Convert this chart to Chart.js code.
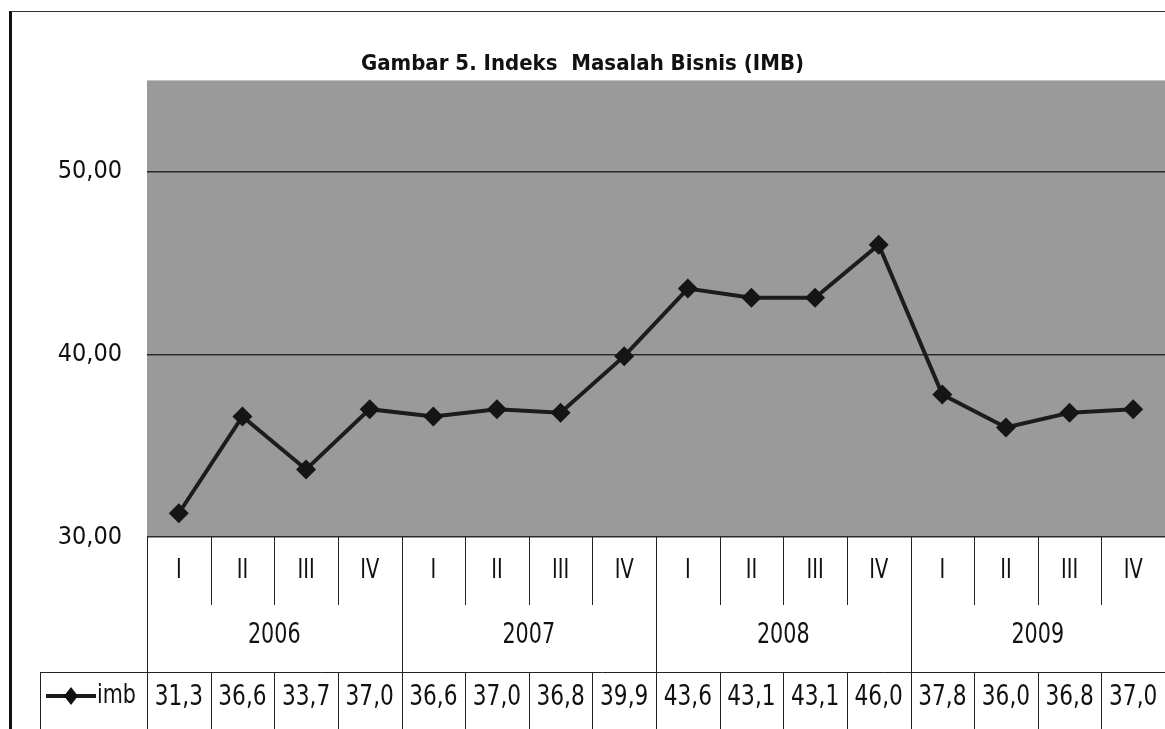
<!DOCTYPE html>
<html>
<head>
<meta charset="utf-8">
<script src="https://cdn.jsdelivr.net/npm/chart.js@4/dist/chart.umd.min.js"></script>
<style>
  html, body { margin: 0; padding: 0; background: #fff; overflow: hidden; }
  #wrap { position: relative; width: 1165px; height: 729px; }
  #chart { display: block; }
  #frame { position: absolute; left: 9px; top: 11px; right: 0; bottom: 0;
           border-left: 3px solid #111; border-top: 1px solid #333; pointer-events: none; }
</style>
</head>
<body>
<div id="wrap">
  <canvas id="chart" width="1165" height="729"></canvas>
  <div id="frame"></div>
</div>
<script>
const titleText = 'Gambar 5. Indeks  Masalah Bisnis (IMB)'
const quarters = ['I', 'II', 'III', 'IV', 'I', 'II', 'III', 'IV', 'I', 'II', 'III', 'IV', 'I', 'II', 'III', 'IV']
const years = ['2006', '2007', '2008', '2009']
const imbValues = [31.3, 36.6, 33.7, 37.0, 36.6, 37.0, 36.8, 39.9, 43.6, 43.1, 43.1, 46.0, 37.8, 36.0, 36.8, 37.0]
const yTicks = [30, 40, 50]
const seriesName = 'imb'

const narrow = '"DejaVu Sans Condensed", "Liberation Sans", sans-serif'
const fmt = v => v.toFixed(1).replace('.', ',')

// grey plot background
const plotBg = {
  id: 'plotBg',
  beforeDraw(chart) {
    const {ctx, chartArea: a} = chart
    ctx.save()
    ctx.fillStyle = '#9a9a9a'
    ctx.fillRect(a.left, a.top, a.right - a.left, a.bottom - a.top)
    ctx.restore()
  }
}

// draws text a bit squeezed sideways, closer to the narrow face of the original
function squeezed(ctx, text, x, y, sx) {
  ctx.save()
  ctx.translate(x, y)
  ctx.scale(sx, 1)
  ctx.fillText(text, 0, 0)
  ctx.restore()
}

// category table under the plot: quarters, years, data row
const dataTable = {
  id: 'dataTable',
  afterDraw(chart) {
    const {ctx, chartArea: a} = chart
    const x = chart.scales.x
    const half = (x.getPixelForValue(1) - x.getPixelForValue(0)) / 2
    const qBottom = a.bottom + 68
    const tTop = a.bottom + 135
    const bottom = chart.height
    ctx.save()
    ctx.strokeStyle = '#222'
    ctx.lineWidth = 1
    ctx.fillStyle = '#111'
    ctx.textAlign = 'center'
    ctx.textBaseline = 'middle'

    // left edge of the table
    ctx.beginPath()
    ctx.moveTo(a.left + 0.5, a.bottom)
    ctx.lineTo(a.left + 0.5, bottom)
    ctx.stroke()

    quarters.forEach((q, i) => {
      const cx = x.getPixelForValue(i)
      const right = Math.round(cx + half) + 0.5
      ctx.font = '27px ' + narrow
      squeezed(ctx, q, cx, a.bottom + 34, 0.8)
      ctx.font = '28px ' + narrow
      squeezed(ctx, fmt(imbValues[i]), cx, tTop + 26, 0.86)
      ctx.beginPath()
      if ((i + 1) % 4 === 0) {
        ctx.moveTo(right, a.bottom)
        ctx.lineTo(right, bottom)
      } else {
        ctx.moveTo(right, a.bottom)
        ctx.lineTo(right, qBottom)
        ctx.moveTo(right, tTop)
        ctx.lineTo(right, bottom)
      }
      ctx.stroke()
    })

    years.forEach((y, k) => {
      const x0 = x.getPixelForValue(k * 4) - half
      const x1 = x.getPixelForValue(k * 4 + 3) + half
      ctx.font = '28px ' + narrow
      squeezed(ctx, y, (x0 + x1) / 2, a.bottom + 99, 0.82)
    })

    // data row top line and legend cell
    const legLeft = 40
    ctx.beginPath()
    ctx.moveTo(legLeft, tTop + 0.5)
    ctx.lineTo(a.right, tTop + 0.5)
    ctx.moveTo(legLeft + 0.5, tTop)
    ctx.lineTo(legLeft + 0.5, bottom)
    ctx.stroke()

    const ly = tTop + 24
    ctx.strokeStyle = '#1a1a1a'
    ctx.lineWidth = 4
    ctx.beginPath()
    ctx.moveTo(legLeft + 6, ly)
    ctx.lineTo(legLeft + 56, ly)
    ctx.stroke()
    ctx.fillStyle = '#111'
    ctx.beginPath()
    ctx.moveTo(legLeft + 31, ly - 9)
    ctx.lineTo(legLeft + 38, ly)
    ctx.lineTo(legLeft + 31, ly + 9)
    ctx.lineTo(legLeft + 24, ly)
    ctx.closePath()
    ctx.fill()
    ctx.textAlign = 'left'
    ctx.font = '27px ' + narrow
    squeezed(ctx, seriesName, legLeft + 57, ly, 0.85)
    ctx.restore()
  }
}

new Chart(document.getElementById('chart').getContext('2d'), {
  type: 'line',
  plugins: [plotBg, dataTable],
  data: {
    labels: quarters.map((q, i) => q + ' ' + years[Math.floor(i / 4)]),
    datasets: [{
      label: seriesName,
      data: imbValues,
      borderColor: '#1c1c1c',
      backgroundColor: '#151515',
      borderWidth: 4,
      pointStyle: 'rectRot',
      pointRadius: 10,
      pointBorderWidth: 0,
      tension: 0,
      fill: false,
    }]
  },
  options: {
    responsive: false,
    animation: false,
    layout: {autoPadding: false, padding: {left: 0, right: 0, top: 0, bottom: 192}},
    plugins: {
      legend: {display: false},
      tooltip: {enabled: false},
      title: {
        display: true,
        text: titleText,
        color: '#111',
        font: {family: narrow, size: 22, weight: 'bold'},
        padding: {top: 51, bottom: 3},
      },
    },
    scales: {
      x: {
        type: 'category',
        display: false,
        offset: true,
      },
      y: {
        min: 30,
        max: 55,
        afterBuildTicks(scale) {
          scale.ticks = yTicks.map(v => ({value: v}))
        },
        afterFit(scale) {
          scale.width = 147
        },
        border: {display: false},
        grid: {color: '#2a2a2a', lineWidth: 1.5, drawTicks: false},
        ticks: {
          color: '#111',
          padding: 25,
          font: {family: narrow, size: 25},
          callback: v => v.toFixed(2).replace('.', ','),
        },
      },
    },
  },
})
</script>
</body>
</html>
